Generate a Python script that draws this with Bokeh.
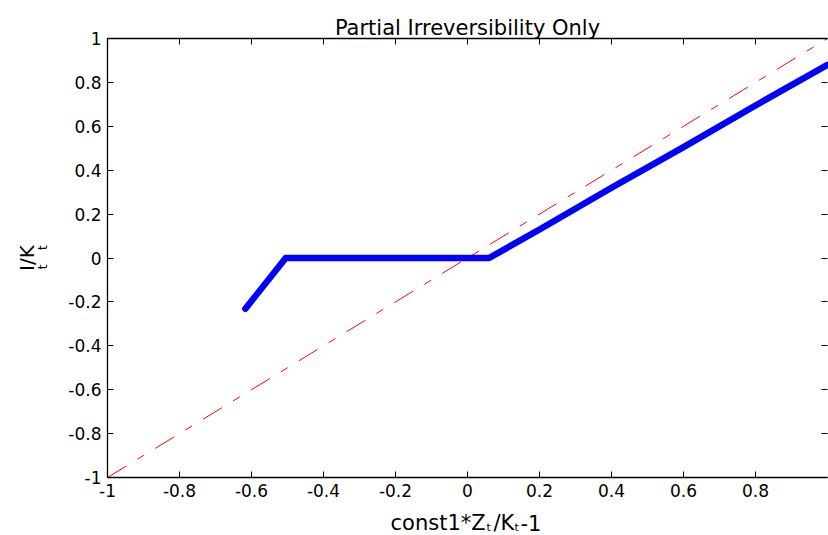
from math import pi
from bokeh.plotting import figure
from bokeh.models import LinearAxis, FixedTicker, Label, Range1d
from bokeh.embed import file_html
from bokeh.resources import INLINE

# ---- data ----
x_ticks = [-1.0, -0.8, -0.6, -0.4, -0.2, 0.0, 0.2, 0.4, 0.6, 0.8]
x_tick_labels = ["-1", "-0.8", "-0.6", "-0.4", "-0.2", "0", "0.2", "0.4", "0.6", "0.8"]
y_ticks = [-1.0, -0.8, -0.6, -0.4, -0.2, 0.0, 0.2, 0.4, 0.6, 0.8, 1.0]
y_tick_labels = ["-1", "-0.8", "-0.6", "-0.4", "-0.2", "0", "0.2", "0.4", "0.6", "0.8", "1"]

diag_x = [-1.0, 1.0]
diag_y = [-1.0, 1.0]

inv_x = [-0.617, -0.505, 0.06, 0.2, 0.4, 0.6, 0.8, 1.0]
inv_y = [-0.231, 0.0, 0.0, 0.13, 0.32, 0.505, 0.695, 0.88]

title_text = "Partial Irreversibility Only"

FONT = "DejaVu Sans"

# ---- layout: the frame fills the canvas; axes box placed by range padding ----
W, H = 828, 535
BOX_L, BOX_R, BOX_T, BOX_B = 107, 827, 38, 477
xs = (BOX_R - BOX_L) / 2.0
ys = (BOX_B - BOX_T) / 2.0
x_range = Range1d(-1 - BOX_L / xs, 1 + (W - BOX_R) / xs)
y_range = Range1d(-1 - (H - BOX_B) / ys, 1 + BOX_T / ys)

p = figure(width=W, height=H, x_range=x_range, y_range=y_range,
           output_backend="svg", toolbar_location=None,
           x_axis_location=None, y_axis_location=None,
           min_border_left=0, min_border_right=0,
           min_border_top=0, min_border_bottom=0)
p.xgrid.visible = False
p.ygrid.visible = False
p.outline_line_color = None
p.background_fill_color = "white"
p.border_fill_color = "white"


def make_axis(ticks, labels, loc, show_labels=True, show_line=True):
    ax = LinearAxis(ticker=FixedTicker(ticks=ticks), fixed_location=loc, bounds=(-1, 1))
    ax.major_label_overrides = {t: l for t, l in zip(ticks, labels)}
    ax.major_tick_in = 6
    ax.major_tick_out = 0
    ax.major_tick_line_color = "black"
    ax.major_tick_line_width = 1
    ax.minor_tick_line_color = None
    ax.axis_line_color = "black" if show_line else None
    ax.axis_line_width = 1.3
    ax.major_label_text_font = FONT
    ax.major_label_text_color = "black"
    if show_labels:
        ax.major_label_text_font_size = "17px"
        ax.major_label_standoff = 6
    else:
        ax.major_label_text_font_size = "0px"
        ax.major_label_text_alpha = 0
        ax.major_label_standoff = 0
    return ax


p.add_layout(make_axis(x_ticks, x_tick_labels, -1), "below")
p.add_layout(make_axis(y_ticks, y_tick_labels, -1), "left")
p.add_layout(make_axis(x_ticks, x_tick_labels, 1, show_labels=False), "above")
p.add_layout(make_axis(y_ticks, y_tick_labels, 1, show_labels=False, show_line=False), "right")

# diagonal reference line
p.line(diag_x, diag_y, line_color="#ff0000", line_width=1, line_dash="22 13 8 13")
# investment policy
p.line(inv_x, inv_y, line_color="#0000ff", line_width=6.5,
       line_cap="round", line_join="round")

# title
p.add_layout(Label(x=0, y=1, y_offset=11, text=title_text, text_font=FONT,
                   text_font_size="21px", text_align="center",
                   text_baseline="alphabetic", text_color="black"))

# x-axis label: const1*Z_t/K_t-1
xl_parts = [("const1*Z", 283, -45, "21px"), ("t", 379, -50, "11px"),
            ("/K", 386, -45, "21px"), ("t", 407, -50, "11px"),
            ("-1", 413, -45, "21px")]
for txt, xo, yo, fs in xl_parts:
    p.add_layout(Label(x=-1, y=-1, x_offset=xo, y_offset=yo, text=txt,
                       text_font=FONT, text_font_size=fs, text_align="left",
                       text_baseline="alphabetic", text_color="black"))

# y-axis label: I_t/K_t (rotated)
p.add_layout(Label(x=-1, y=0, x_offset=-81, text="I/K", angle=pi / 2,
                   text_font=FONT, text_font_size="20px", text_align="center",
                   text_baseline="alphabetic", text_color="black"))
for yv in (-0.04, 0.047):
    p.add_layout(Label(x=-1, y=yv, x_offset=-65, text="t", angle=pi / 2,
                       text_font=FONT, text_font_size="12px", text_align="center",
                       text_baseline="alphabetic", text_color="black"))

open("out.html", "w").write(file_html(p, INLINE))
